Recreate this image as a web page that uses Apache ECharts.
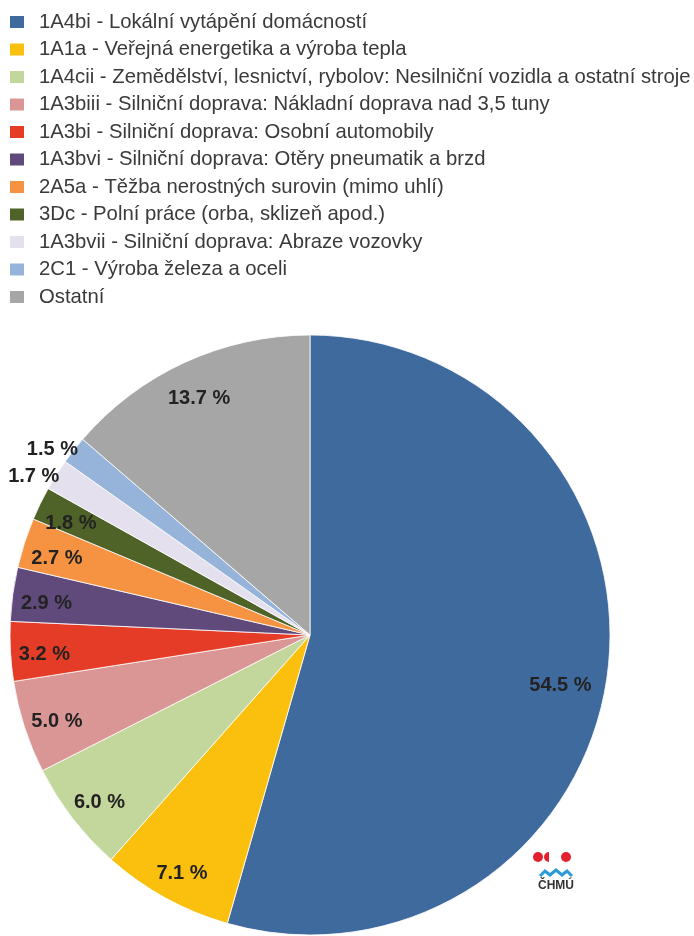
<!DOCTYPE html>
<html><head><meta charset="utf-8">
<script src="https://cdn.jsdelivr.net/npm/echarts@6/dist/echarts.min.js"></script>
<style>html,body{margin:0;padding:0;background:#fff}#c{width:694px;height:936px}</style>
</head><body><div id="c"></div>
<script>
const categories = [
  "1A4bi - Lokální vytápění domácností",
  "1A1a - Veřejná energetika a výroba tepla",
  "1A4cii - Zemědělství, lesnictví, rybolov: Nesilniční vozidla a ostatní stroje",
  "1A3biii - Silniční doprava: Nákladní doprava nad 3,5 tuny",
  "1A3bi - Silniční doprava: Osobní automobily",
  "1A3bvi - Silniční doprava: Otěry pneumatik a brzd",
  "2A5a - Těžba nerostných surovin (mimo uhlí)",
  "3Dc - Polní práce (orba, sklizeň apod.)",
  "1A3bvii - Silniční doprava: Abraze vozovky",
  "2C1 - Výroba železa a oceli",
  "Ostatní"
];
const values = [54.5, 7.1, 6.0, 5.0, 3.2, 2.9, 2.7, 1.8, 1.7, 1.5, 13.7];
const colors = ["#3F6A9D","#FBC00E","#C3D79C","#D99695","#E43C27","#604A7C","#F59342","#4F6228","#E4E0EE","#96B4D9","#A6A6A6"];
const outsideLabels = ["1A3bvii - Silniční doprava: Abraze vozovky", "2C1 - Výroba železa a oceli"];

const data = categories.map((n, i) => ({name: n, value: values[i], itemStyle: {color: colors[i]}}));
const ghost = categories.map((n, i) => i === 0
  ? {name: n, value: values[i], label: {offset: [-13, 13]}}
  : {name: n, value: values[i]});
const fmt = v => v.toFixed(1) + ' %';
const labelStyle = {fontFamily: 'Liberation Sans, Arial', fontWeight: 'bold', fontSize: 20, color: '#222'};

const chart = echarts.init(document.getElementById('c'), null, {renderer: 'canvas'});
chart.setOption({
  animation: false,
  color: colors,
  legend: {
    orient: 'vertical', left: 8, top: 12, padding: 0,
    itemWidth: 16, itemHeight: 14, itemGap: 7.5,
    icon: 'rect',
    selectedMode: false,
    textStyle: {fontFamily: 'Liberation Sans, Arial', fontSize: 20.3, color: '#3a3a3a', lineHeight: 20, padding: [0,0,0,9]},
    data: categories
  },
  series: [
    {
      type: 'pie', center: [310, 635], radius: [0, 300], startAngle: 90, clockwise: true,
      data: data, label: {show: false}, labelLine: {show: false},
      itemStyle: {borderColor: '#fff', borderWidth: 0.8},
      emphasis: {disabled: true}, silent: true
    },
    {
      type: 'pie', center: [310, 635], radius: [232, 294], startAngle: 90, clockwise: true,
      data: ghost, legendHoverLink: false, silent: true, emphasis: {disabled: true},
      itemStyle: {color: 'rgba(0,0,0,0)'},
      label: Object.assign({show: true, position: 'inside', offset: [0, 5], formatter: p => outsideLabels.includes(p.name) ? '' : fmt(p.value)}, labelStyle),
      labelLine: {show: false}
    },
    {
      type: 'pie', center: [310, 635], radius: [300, 338], startAngle: 90, clockwise: true,
      data: categories.map((n, i) => ({name: n, value: values[i]})), legendHoverLink: false, silent: true, emphasis: {disabled: true},
      itemStyle: {color: 'rgba(0,0,0,0)'},
      label: Object.assign({show: true, position: 'inside', offset: [-4, 13], formatter: p => outsideLabels.includes(p.name) ? fmt(p.value) : ''}, labelStyle),
      labelLine: {show: false}
    }
  ],
  graphic: [
    {type: 'circle', shape: {cx: 538, cy: 857, r: 5}, style: {fill: '#E5202E'}, silent: true},
    {type: 'sector', shape: {cx: 549, cy: 857, r: 5, startAngle: Math.PI/2, endAngle: Math.PI*1.5}, style: {fill: '#E5202E'}, silent: true},
    {type: 'circle', shape: {cx: 566, cy: 857, r: 5}, style: {fill: '#E5202E'}, silent: true},
    {type: 'polyline', shape: {points: [[540,876],[545,871],[550,875],[556,870],[562,875],[567,871],[572,876]]}, style: {stroke: '#2A9BD8', lineWidth: 3, fill: null}, silent: true},
    {type: 'text', x: 556, y: 886, style: {text: 'ČHMÚ', font: 'bold 12px Liberation Sans, Arial', fill: '#333', align: 'center', verticalAlign: 'middle'}, silent: true}
  ]
});
</script></body></html>
